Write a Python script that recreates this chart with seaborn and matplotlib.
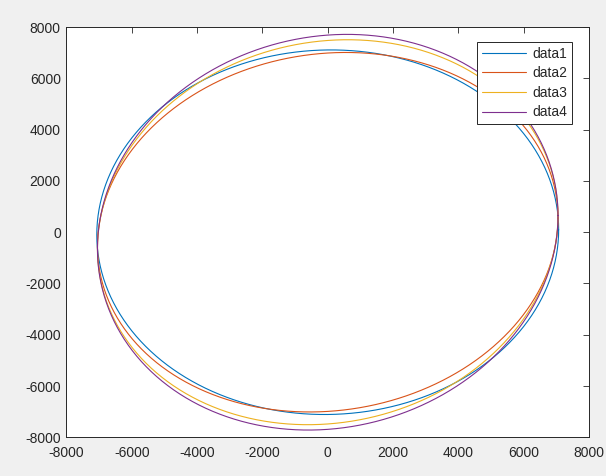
import numpy as np
import pandas as pd
import matplotlib
matplotlib.use('Agg')
import matplotlib.pyplot as plt
import seaborn as sns

# Series (centered ellipses: x = A cos t, y = C cos t + B sin t)
series_names = ['data1', 'data2', 'data3', 'data4']
x_extent = [7070, 7050, 7050, 7050]        # A: x at the right-most point
y_at_x_extent = [100, 550, 650, 650]       # C: y at the right-most point
y_semi = [7110, 6990, 7480, 7690]          # B
line_colors = ['#0072BD', '#D95319', '#EDB120', '#7E2F8E']

axis_ticks = [-8000, -6000, -4000, -2000, 0, 2000, 4000, 6000, 8000]

sns.set_style("white")
plt.rcParams['font.family'] = ['Liberation Sans', 'DejaVu Sans']
plt.rcParams['axes.unicode_minus'] = False

fig = plt.figure(figsize=(6.06, 4.76), dpi=100, facecolor='#f0f0f0')
ax = fig.add_axes([0.1096, 0.0813, 0.8624, 0.8617])
ax.set_facecolor('white')

t = np.linspace(0, 2 * np.pi, 721)
for name, a, c, b, col in zip(series_names, x_extent, y_at_x_extent, y_semi, line_colors):
    df = pd.DataFrame({'x': a * np.cos(t), 'y': c * np.cos(t) + b * np.sin(t)})
    sns.lineplot(data=df, x='x', y='y', sort=False, estimator=None,
                 color=col, linewidth=0.8, label=name, ax=ax)

ax.set_xlim(-8000, 8000)
ax.set_ylim(-8000, 8000)
ax.set_xticks(axis_ticks)
ax.set_yticks(axis_ticks)
ax.set_xlabel('')
ax.set_ylabel('')
ax.tick_params(direction='in', length=4, width=0.6, colors='#262626',
               labelsize=10, top=True, right=True, pad=4)
ax.tick_params(axis='x', pad=6)
for sp in ax.spines.values():
    sp.set_visible(True)
    sp.set_color('#262626')
    sp.set_linewidth(0.7)

leg = ax.legend(loc='upper right', bbox_to_anchor=(0.967, 0.964), borderaxespad=0,
                fontsize=10, handlelength=3.2, labelspacing=0.4, fancybox=False,
                framealpha=1, edgecolor='#262626', borderpad=0.35, handletextpad=0.43)
leg.get_frame().set_linewidth(0.7)
for txt in leg.get_texts():
    txt.set_color('#262626')

fig.savefig('out.png', dpi=100, facecolor=fig.get_facecolor())
